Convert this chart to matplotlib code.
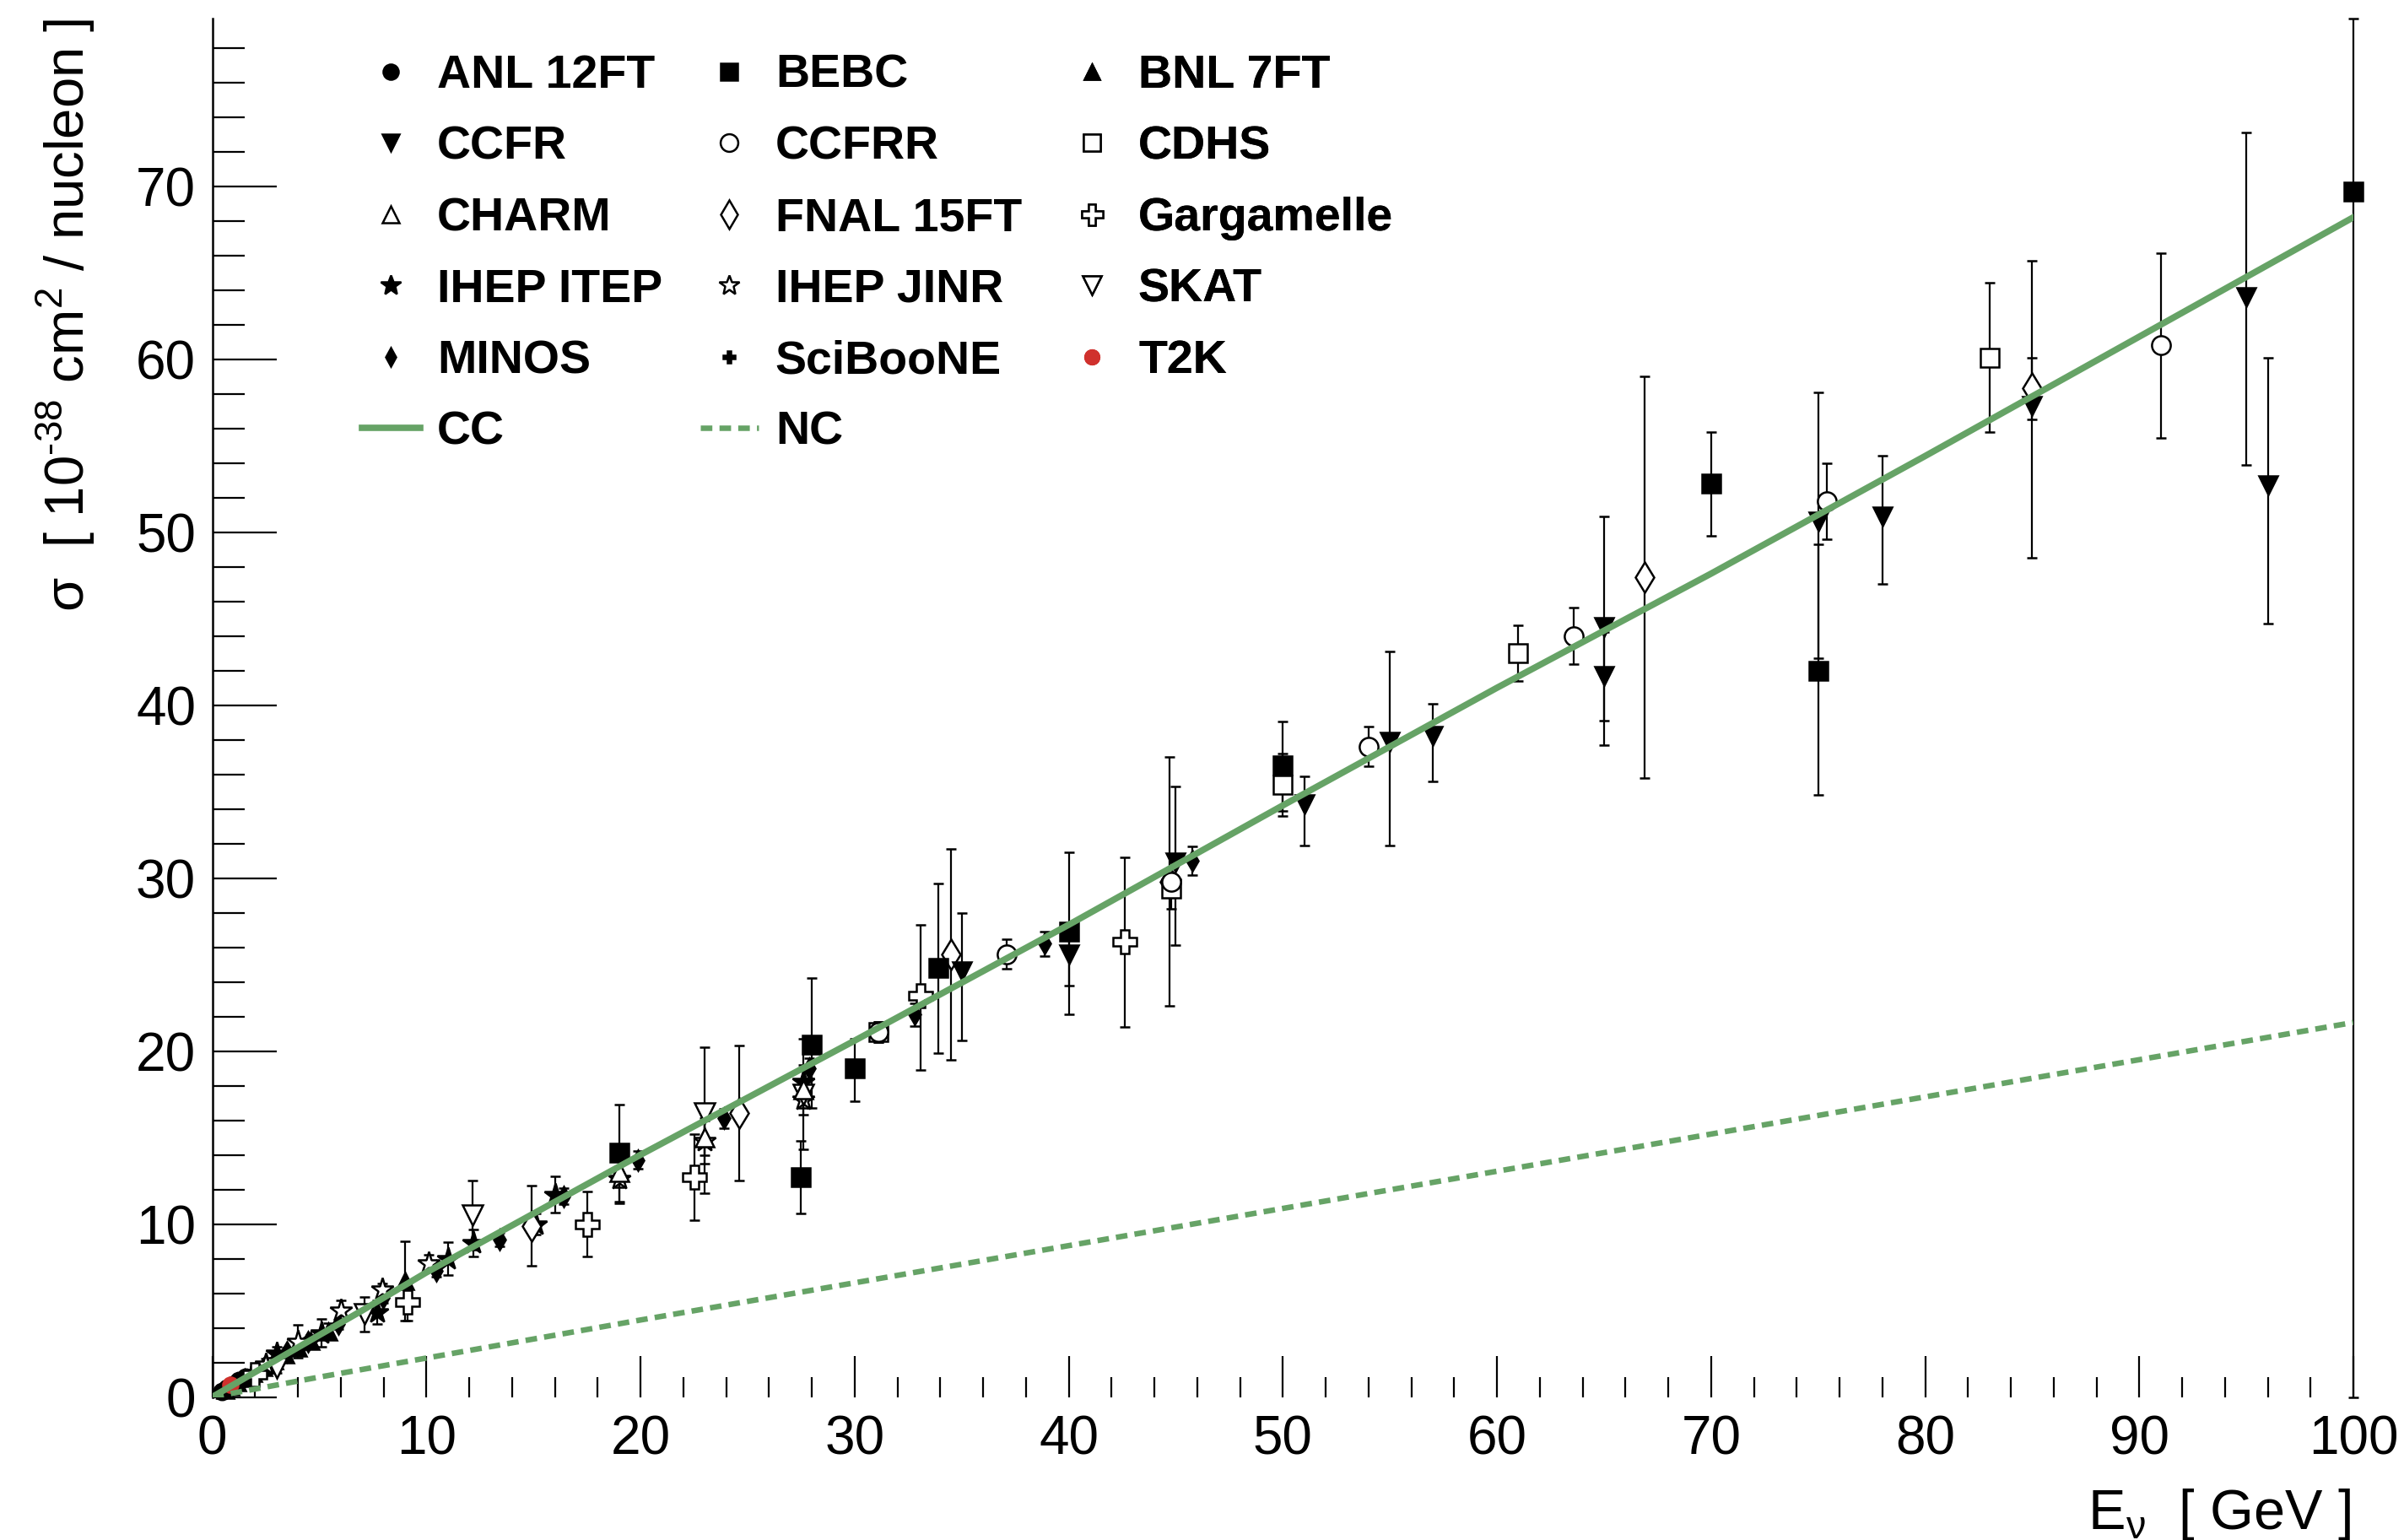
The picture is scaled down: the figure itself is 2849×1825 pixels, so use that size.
import numpy as np
import matplotlib.pyplot as plt
from matplotlib.ticker import MultipleLocator
from matplotlib.lines import Line2D

# ---- data ----
# model curves
cc_e = [0, 1, 2, 3, 5, 7, 10, 15, 20, 25, 30, 40, 50, 60, 70, 80, 90, 100]
cc_xs = [0, 0.72, 1.44, 2.15, 3.58, 5.0, 7.2, 10.6, 14.0, 17.3, 20.6, 27.3, 34.2, 41.0, 47.6, 54.4, 61.3, 68.2]
nc_e = [0, 5, 10, 20, 30, 40, 50, 60, 70, 80, 90, 100]
nc_xs = [0, 1.15, 2.25, 4.45, 6.6, 8.75, 10.9, 13.05, 15.2, 17.35, 19.5, 21.65]

# experiments: energy, sigma, lower err, upper err
anl_e = [0.45, 0.7, 0.95, 1.25, 1.55]
anl_xs = [0.33, 0.52, 0.72, 0.95, 1.15]
anl_err = [0.06, 0.07, 0.09, 0.11, 0.15]

bebc_e = [19.0, 27.5, 28.0, 30.0, 33.9, 40.0, 50.0, 70.0, 75.0, 100.0]
bebc_xs = [14.1, 12.7, 20.35, 19.0, 24.8, 26.9, 36.5, 52.8, 42.0, 69.7]
bebc_lo = [2.9, 2.1, 3.65, 1.9, 4.9, 4.8, 2.6, 3.0, 7.2, 69.7]
bebc_hi = [2.8, 2.1, 3.85, 1.7, 4.9, 4.6, 2.55, 3.0, 7.3, 10.0]

bnl_e = [0.6, 0.85, 1.15, 1.5, 1.9, 2.4, 2.9, 3.4, 4.0, 4.6, 5.4, 9.0]
bnl_xs = [0.42, 0.62, 0.85, 1.1, 1.38, 1.72, 2.1, 2.45, 2.85, 3.25, 3.8, 6.7]
bnl_err = [0.05, 0.06, 0.08, 0.1, 0.12, 0.15, 0.18, 0.22, 0.28, 0.33, 0.45, 2.3]

ccfr_e = [35.0, 40.0, 45.0, 51.0, 55.0, 57.0, 65.0, 65.0, 75.0, 78.0, 85.0, 95.0, 96.0]
ccfr_xs = [24.6, 25.6, 30.9, 34.25, 37.9, 38.2, 44.5, 41.7, 50.6, 50.9, 57.3, 63.6, 52.7]
ccfr_lo = [4.0, 1.8, 4.8, 2.35, 6.0, 2.6, 5.4, 4.0, 7.9, 3.9, 8.8, 9.7, 8.0]
ccfr_hi = [3.4, 1.8, 4.4, 1.65, 5.2, 1.9, 6.4, 2.5, 7.5, 3.5, 8.4, 9.5, 7.4]

ccfrr_e = [31.1, 37.1, 44.8, 54.0, 63.6, 75.4, 91.0]
ccfrr_xs = [21.1, 25.6, 29.8, 37.6, 44.0, 51.8, 60.8]
ccfrr_err = [0.6, 0.85, 0.8, 1.15, 1.65, 2.2, 5.35]

cdhs_e = [31.1, 44.8, 50.0, 61.0, 83.0]
cdhs_xs = [21.1, 29.4, 35.4, 43.0, 60.1]
cdhs_err = [0.6, 1.2, 1.8, 1.6, 4.3]

charm_e = [19.0, 23.0, 27.6]
charm_xs = [13.0, 15.0, 17.8]
charm_err = [0.9, 1.0, 1.1]

fnal_e = [14.9, 24.6, 34.5, 44.7, 66.9, 85.0]
fnal_xs = [9.9, 16.4, 25.6, 29.8, 47.4, 58.3]
fnal_err = [2.3, 3.9, 6.1, 7.2, 11.6, 1.8]

garg_e = [2.0, 9.1, 17.5, 22.5, 33.1, 42.6]
garg_xs = [1.3, 5.5, 10.0, 12.7, 23.2, 26.3]
garg_lo = [0.3, 1.1, 1.9, 2.5, 4.3, 4.9]
garg_hi = [0.3, 1.1, 1.9, 2.5, 4.1, 4.9]

itep_e = [3.0, 5.1, 7.7, 11.0, 12.2, 15.1, 16.0, 27.6]
itep_xs = [2.5, 3.7, 4.9, 8.0, 8.9, 10.0, 11.7, 18.2]
itep_err = [0.4, 0.8, 0.7, 0.95, 0.8, 0.6, 1.05, 1.0]

jinr_e = [2.5, 4.0, 6.0, 7.95, 10.1, 19.0, 23.0, 27.6]
jinr_xs = [1.9, 3.2, 5.0, 6.2, 7.75, 12.6, 14.8, 17.2]
jinr_err = [0.3, 0.95, 0.6, 0.35, 0.45, 1.3, 1.3, 0.9]

skat_e = [3.0, 7.1, 12.15, 23.0, 27.6]
skat_xs = [1.7, 4.8, 10.5, 16.4, 17.5]
skat_lo = [0.3, 1.0, 2.0, 4.6, 3.2]
skat_hi = [0.3, 1.0, 2.0, 3.8, 3.2]

minos_e = [3.48, 4.45, 5.89, 7.97, 10.45, 13.43, 16.42, 19.87, 23.88, 27.89, 32.81, 38.87, 45.77]
minos_xs = [2.6, 3.2, 4.2, 5.75, 7.3, 9.1, 11.6, 13.7, 16.1, 19.0, 22.1, 26.2, 31.0]
minos_err = [0.25, 0.22, 0.25, 0.3, 0.35, 0.4, 0.45, 0.5, 0.55, 0.6, 0.65, 0.7, 0.85]

sb_e = [0.4, 0.65, 0.9, 1.15, 1.4, 1.65, 1.9, 2.2, 2.6, 3.1]
sb_xs = [0.3, 0.47, 0.66, 0.83, 1.0, 1.18, 1.35, 1.55, 1.85, 2.2]
sb_err = [0.05, 0.05, 0.06, 0.07, 0.08, 0.1, 0.12, 0.14, 0.17, 0.22]

t2k_e = [0.85]
t2k_xs = [0.69]
t2k_err = [0.07]

GREEN = '#66a366'
RED = '#d0312d'
NC_DASH = (0, (2.1, 1.3))

plt.rcParams['font.family'] = ['Liberation Sans', 'DejaVu Sans']
plt.rcParams['mathtext.fontset'] = 'custom'
plt.rcParams['mathtext.rm'] = 'Liberation Sans'

W, H = 2849, 1825
fig = plt.figure(figsize=(W / 100, H / 100), dpi=100)
x0, x1 = 251.6 / W, 2789 / W
y0, y1 = (H - 1655.5) / H, (H - 21.8) / H
ax = fig.add_axes([x0, y0, x1 - x0, y1 - y0])


def draw(e, xs, lo, hi, marker, ms, mfc, mec='black'):
    ax.errorbar(e, xs, yerr=[lo, hi], fmt=marker, ms=ms, mfc=mfc, mec=mec,
                mew=1.8, ecolor='black', elinewidth=1.6, capsize=4.5,
                capthick=1.6, zorder=2, clip_on=False)


draw(anl_e, anl_xs, anl_err, anl_err, 'o', 14, 'black')
draw(bnl_e, bnl_xs, bnl_err, bnl_err, '^', 14, 'black')
draw(sb_e, sb_xs, sb_err, sb_err, 'P', 11, 'black')
draw(minos_e, minos_xs, minos_err, minos_err, 'd', 12, 'black')
draw(itep_e, itep_xs, itep_err, itep_err, '*', 20, 'black')
draw(jinr_e, jinr_xs, jinr_err, jinr_err, '*', 20, 'white')
draw(skat_e, skat_xs, skat_lo, skat_hi, 'v', 17, 'white')
draw(garg_e, garg_xs, garg_lo, garg_hi, 'P', 20, 'white')
draw(charm_e, charm_xs, charm_err, charm_err, '^', 16, 'white')
draw(fnal_e, fnal_xs, fnal_err, fnal_err, 'd', 18, 'white')
draw(cdhs_e, cdhs_xs, cdhs_err, cdhs_err, 's', 16, 'white')
draw(ccfrr_e, ccfrr_xs, ccfrr_err, ccfrr_err, 'o', 16, 'white')
draw(ccfr_e, ccfr_xs, ccfr_lo, ccfr_hi, 'v', 16, 'black')
draw(bebc_e, bebc_xs, bebc_lo, bebc_hi, 's', 16, 'black')
draw(t2k_e, t2k_xs, t2k_err, t2k_err, 'o', 13, RED, RED)

ax.plot(cc_e, cc_xs, color=GREEN, lw=5.5, zorder=3)
ax.plot(nc_e, nc_xs, color=GREEN, lw=4.7, ls=NC_DASH, zorder=3)

ax.set_xlim(0, 100)
ax.set_ylim(0, 79.7)
ax.xaxis.set_major_locator(MultipleLocator(10))
ax.xaxis.set_minor_locator(MultipleLocator(2))
ax.yaxis.set_major_locator(MultipleLocator(10))
ax.yaxis.set_minor_locator(MultipleLocator(2))
ax.tick_params(axis='x', which='major', direction='in', length=35, width=1.6, pad=15, labelsize=46)
ax.tick_params(axis='x', which='minor', direction='in', length=17, width=1.6)
ax.tick_params(axis='y', which='major', direction='in', length=55, width=1.6, pad=14, labelsize=46)
ax.tick_params(axis='y', which='minor', direction='in', length=27, width=1.6)
for s in ['top', 'right', 'bottom']:
    ax.spines[s].set_visible(False)
ax.spines['left'].set_linewidth(1.8)

fig.text(2786 / W, (H - 1812) / H, r'E$_{\mathregular{ν}}$  [ GeV ]', ha='right', va='baseline', fontsize=48)
fig.text(115 / W, y1, 'σ  [ 10$^{\\mathregular{\u201038}}$ cm$^{\\mathregular{2}}$ / nucleon ]',
         rotation=90, ha='right', va='top', fontsize=47)

# legend, three columns laid out row by row


def mk(marker, ms, mfc, mec='black'):
    return Line2D([], [], ls='none', marker=marker, ms=ms, mfc=mfc, mec=mec, mew=1.8)


cols = [
    ([mk('o', 13, 'black'), mk('v', 15, 'black'), mk('^', 15, 'white'), mk('*', 18, 'black'),
      mk('d', 11, 'black'), Line2D([], [], color=GREEN, lw=5.5)],
     ['ANL 12FT', 'CCFR', 'CHARM', 'IHEP ITEP', 'MINOS', 'CC'], 429),
    ([mk('s', 15, 'black'), mk('o', 15, 'white'), mk('d', 17, 'white'), mk('*', 18, 'white'),
      mk('P', 10, 'black'), Line2D([], [], color=GREEN, lw=4.7, ls=NC_DASH)],
     ['BEBC', 'CCFRR', 'FNAL 15FT', 'IHEP JINR', 'SciBooNE', 'NC'], 830),
    ([mk('^', 13, 'black'), mk('s', 15, 'white'), mk('P', 18, 'white'), mk('v', 16, 'white'),
      mk('o', 12, RED, RED)],
     ['BNL 7FT', 'CDHS', 'Gargamelle', 'SKAT', 'T2K'], 1260),
]
for handles, labels, xpix in cols:
    leg = ax.legend(handles, labels, loc='upper left', bbox_to_anchor=(xpix / W, 1 - 64 / H),
                    bbox_transform=fig.transFigure, frameon=False, borderpad=0, borderaxespad=0,
                    handlelength=1.24, handletextpad=0.36, labelspacing=0.586,
                    prop={'weight': 'bold', 'size': 40})
    ax.add_artist(leg)

fig.savefig('out.png', dpi=100)
